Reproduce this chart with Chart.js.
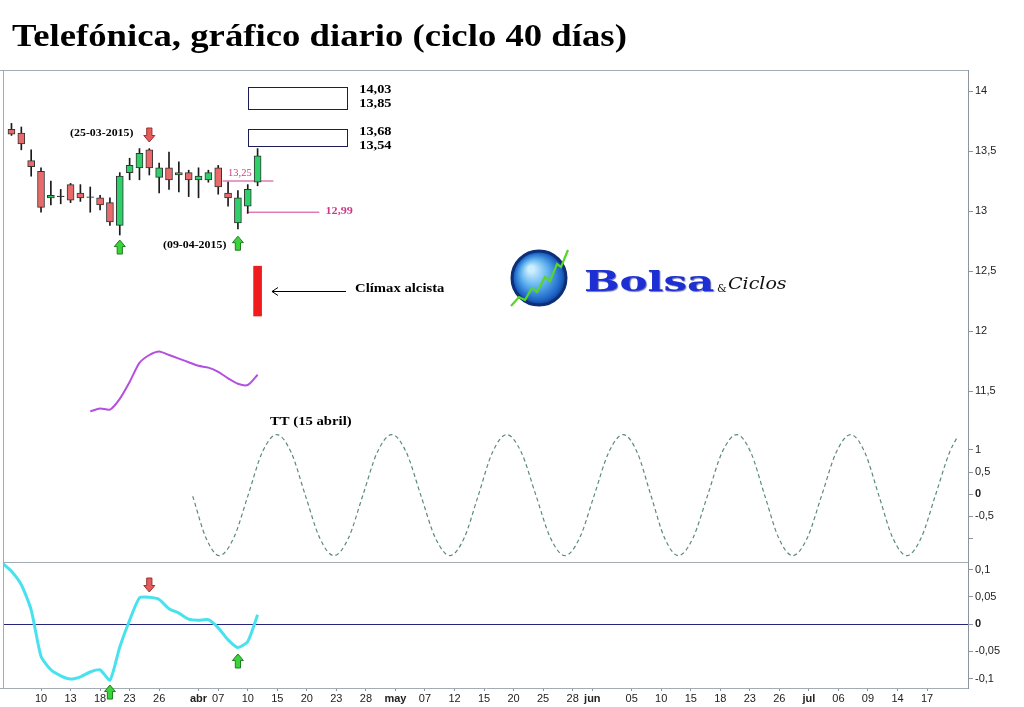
<!DOCTYPE html>
<html><head><meta charset="utf-8">
<script src="https://cdn.jsdelivr.net/npm/chart.js@4.4.1/dist/chart.umd.min.js"></script>
<style>
html,body{margin:0;padding:0;background:#fff;}
#wrap{position:relative;width:1024px;height:707px;overflow:hidden;background:#fff;}
canvas{position:absolute;left:0;top:0;}
#title{position:absolute;left:12px;top:20px;font-family:"Liberation Serif","Times New Roman",serif;font-weight:bold;font-size:31px;line-height:31px;white-space:nowrap;transform:scaleX(1.185);transform-origin:0 0;color:#000;}
</style></head><body>
<div id="wrap"><canvas id="c" width="1024" height="707"></canvas><div id="title">Telefónica, gráfico diario (ciclo 40 días)</div></div>
<script>
// ---- x axis (trading-day index) tick labels ----
const xTickIdx = [3,6,9,12,15,19,21,24,27,30,33,36,39,42,45,48,51,54,57,59,63,66,69,72,75,78,81,84,87,90,93];
const xTickLabels = ['10','13','18','23','26','abr','07','10','15','20','23','28','may','07','12','15','20','25','28','jun','05','10','15','18','23','26','jul','06','09','14','17'];
const monthLabels = ['abr','may','jun','jul'];

// ---- daily candles (5-03-2015 .. 13-04-2015) ----
const candleOpen  = [13.68,13.65,13.42,13.33,13.11,13.12,13.22,13.15,13.114,13.11,13.07,12.88,13.32,13.36,13.51,13.28,13.36,13.30,13.32,13.26,13.26,13.36,13.15,12.90,13.04,13.24];
const candleClose = [13.64,13.56,13.37,13.03,13.13,13.125,13.09,13.11,13.118,13.05,12.91,13.29,13.38,13.48,13.36,13.36,13.26,13.32,13.26,13.29,13.32,13.20,13.11,13.11,13.18,13.46];
const candleHigh  = [13.73,13.70,13.51,13.36,13.25,13.18,13.23,13.22,13.20,13.13,13.11,13.32,13.44,13.52,13.52,13.40,13.49,13.41,13.34,13.36,13.34,13.38,13.24,13.17,13.22,13.52];
const candleLow   = [13.63,13.51,13.29,12.99,13.05,13.06,13.07,13.08,12.99,13.01,12.88,12.80,13.26,13.26,13.30,13.15,13.18,13.16,13.12,13.11,13.24,13.14,13.04,12.85,12.98,13.21];

// ---- purple smoothed line (price scale), starting at index 8 ----
const purpleStart = 8;
const purpleVals = [11.33,11.355,11.345,11.435,11.575,11.735,11.80,11.83,11.80,11.77,11.74,11.71,11.695,11.66,11.605,11.56,11.55,11.635];

// ---- cyan oscillator, starting at index -1 ----
const oscStart = -1;
const oscVals = [0.113,0.097,0.072,0.026,-0.059,-0.084,-0.095,-0.101,-0.097,-0.088,-0.084,-0.103,-0.042,0.007,0.048,0.049,0.045,0.028,0.020,0.009,0.007,0.008,-0.007,-0.029,-0.043,-0.032,0.017];

// ---- 40-day cycle projection (read points) ----
const sineX = [18.41,19.76,21.11,22.57,24.03,25.48,26.94,28.40,29.85,31.31,32.76,34.23,35.69,37.16,38.62,40.10,41.58,43.06,44.54,45.98,47.42,48.86,50.30,51.78,53.27,54.75,56.23,57.71,59.19,60.67,62.15,63.55,64.95,66.34,67.74,69.22,70.71,72.19,73.67,75.09,76.51,77.93,79.35,80.83,82.30,83.78,85.25,86.67,88.10,89.52,90.94,92.40,93.85,95.29,96.02];
const sineY = [-0.05,-1.0,-1.4, -1.0,-0.03,0.95,1.35,0.95,-0.03,-1.0,-1.4, -1.0,-0.03,0.95,1.35,0.95,-0.03,-1.0,-1.4, -1.0,-0.03,0.95,1.35,0.95,-0.03,-1.0,-1.4, -1.0,-0.03,0.95,1.35,0.95,-0.03,-1.0,-1.4, -1.0,-0.03,0.95,1.35,0.95,-0.03,-1.0,-1.4, -1.0,-0.03,0.95,1.35,0.95,-0.03,-1.0,-1.4, -1.0,-0.03,0.95,1.27];

// ---- annotation levels ----
const targetBoxes = [[14.03,13.85],[13.68,13.54]];
const targetLabels = [['14,03','13,85'],['13,68','13,54']];
const supportLevels = [13.25, 12.99];
const supportLabels = ['13,25','12,99'];
const climaxRange = [12.125, 12.54];
const climaxIdx = 25;

// ticks of the y axes
const priceTicks = [11.5,12,12.5,13,13.5,14];
const sineTicks = [-1,-0.5,0,0.5,1];
const oscTicks = [-0.1,-0.05,0,0.05,0.1];

const comma = v => String(v).replace('.', ',');
const FONT = '"Liberation Sans", Arial, sans-serif';
const SERIF = '"Liberation Serif", "Times New Roman", serif';
const AXC = '#8d949c';

function candleColor(i){
  const d = candleClose[i]-candleOpen[i];
  if (Math.abs(d) < 0.006) return '#2a2a2a';
  return d > 0 ? '#2fcf6a' : '#e96a6a';
}

function yAxis(extra){
  return Object.assign({
    position:'right', stack:'main',
    afterFit: s => { s.width = 56; },
    grid:{drawOnChartArea:false, tickLength:5, color:AXC},
    border:{color:AXC},
    ticks:{color:'#222', padding:2, font:{family:FONT,size:11}}
  }, extra);
}

function txt(ctx, s, x, y, font, color, sx){
  ctx.save();
  ctx.font = font; ctx.fillStyle = color; ctx.textBaseline = 'middle'; ctx.textAlign = 'left';
  ctx.translate(x, y); ctx.scale(sx||1, 1); ctx.fillText(s, 0, 0);
  ctx.restore();
}
function arrow(ctx, cx, tipY, down){
  const hw = 5.5, sw = 2.6, H = 14, hh = 6.5, d = down ? 1 : -1;
  const tail = tipY - d*H, neck = tipY - d*hh;
  ctx.save();
  ctx.beginPath();
  ctx.moveTo(cx-sw, tail); ctx.lineTo(cx+sw, tail); ctx.lineTo(cx+sw, neck); ctx.lineTo(cx+hw, neck);
  ctx.lineTo(cx, tipY); ctx.lineTo(cx-hw, neck); ctx.lineTo(cx-sw, neck); ctx.closePath();
  ctx.fillStyle = down ? '#e25c5c' : '#3bd23b'; ctx.fill();
  ctx.lineWidth = 1; ctx.strokeStyle = down ? '#9a3030' : '#1f7f1f'; ctx.stroke();
  ctx.restore();
}

const priceArrows = [[14,13.575,true],[11,12.758,false],[23,12.79,false]];
const oscArrows = [[14,0.0587,true],[23,-0.055,false],[10,-0.112,false]];

const annot = {
  id:'annot',
  beforeDraw(chart){
    const c = chart.ctx; c.save(); c.fillStyle='#fff'; c.fillRect(0,0,chart.width,chart.height); c.restore();
  },
  beforeDatasetsDraw(chart){
    const c = chart.ctx, a = chart.chartArea, so = chart.scales.yOsc;
    c.save(); c.strokeStyle = '#a3abb3'; c.lineWidth = 1;
    c.beginPath();
    c.moveTo(0, a.top+0.5); c.lineTo(a.right, a.top+0.5);
    c.moveTo(a.left-0.5, a.top); c.lineTo(a.left-0.5, a.bottom);
    c.moveTo(0, a.bottom+0.5); c.lineTo(a.left, a.bottom+0.5);
    c.moveTo(a.left, Math.round(so.top)+0.5); c.lineTo(a.right, Math.round(so.top)+0.5);
    c.stroke(); c.restore();
  },
  afterDraw(chart){
    const c = chart.ctx, xs = chart.scales.x, yp = chart.scales.y, yo = chart.scales.yOsc;
    const X = v => xs.getPixelForValue(v), Y = v => yp.getPixelForValue(v);
    // target boxes
    targetBoxes.forEach((b, k) => {
      const x0 = Math.round(X(24.06))+0.5, x1 = Math.round(X(34.05))+0.5;
      const t = Math.round(Y(b[0]))+0.5, bt = Math.round(Y(b[1]))+0.5;
      c.save(); c.fillStyle='#fff'; c.fillRect(x0,t,x1-x0,bt-t);
      c.strokeStyle='#1c1c5a'; c.lineWidth=1; c.strokeRect(x0,t,x1-x0,bt-t); c.restore();
      txt(c, targetLabels[k][0], X(35.33), t+2.5, 'bold 13px '+SERIF, '#000', 1.1);
      txt(c, targetLabels[k][1], X(35.33), t+16, 'bold 13px '+SERIF, '#000', 1.1);
    });
    // support labels
    txt(c, supportLabels[0], X(22.0), Y(13.314), '10px '+SERIF, '#d0388a', 1.05);
    txt(c, supportLabels[1], X(31.9), Y(12.99)-1.5, 'bold 11px '+SERIF, '#d0388a', 1.1);
    // date notes
    txt(c, '(25-03-2015)', X(5.95), Y(13.65), 'bold 11px '+SERIF, '#000', 1.08);
    txt(c, '(09-04-2015)', X(15.39), Y(12.717), 'bold 11px '+SERIF, '#000', 1.08);
    txt(c, 'TT (15 abril)', X(26.26), Y(11.242), 'bold 13px '+SERIF, '#000', 1.13);
    // climax note + arrow
    txt(c, 'Clímax alcista', X(34.9), Y(12.35), 'bold 13px '+SERIF, '#000', 1.13);
    const ay = Math.round(Y(12.333))+0.5, ax0 = X(26.46), ax1 = X(33.98);
    c.save(); c.strokeStyle='#000'; c.lineWidth=1; c.beginPath();
    c.moveTo(ax1, ay); c.lineTo(ax0, ay); c.moveTo(ax0+6, ay-4); c.lineTo(ax0, ay); c.lineTo(ax0+6, ay+4); c.stroke(); c.restore();
    // signal arrows
    priceArrows.forEach(a => arrow(c, X(a[0]), Y(a[1]), a[2]));
    oscArrows.forEach(a => arrow(c, X(a[0]), yo.getPixelForValue(a[1]), a[2]));
    // logo
    c.save();
    const gx = 539, gy = 278, r = 27;
    const g = c.createRadialGradient(gx-8, gy-9, 3, gx, gy, r);
    g.addColorStop(0,'#cdeeff'); g.addColorStop(0.45,'#5fb2ee'); g.addColorStop(0.85,'#1d66c8'); g.addColorStop(1,'#123c8c');
    c.beginPath(); c.arc(gx, gy, r, 0, Math.PI*2); c.fillStyle=g; c.fill();
    c.lineWidth=3; c.strokeStyle='#0d2f78'; c.stroke();
    c.beginPath();
    const zz = [[511,306],[519,297],[525,300],[532,288],[537,292],[545,277],[550,281],[557,264],[561,267],[568,250]];
    zz.forEach((p,i)=> i? c.lineTo(p[0],p[1]) : c.moveTo(p[0],p[1]));
    c.lineWidth=2.2; c.strokeStyle='#5ad42a'; c.stroke();
    c.restore();
    c.save(); c.shadowColor='rgba(10,20,120,0.6)'; c.shadowOffsetX=1; c.shadowOffsetY=1; c.shadowBlur=1;
    txt(c, 'Bolsa', 584, 284, 'bold 28px "DejaVu Serif", serif', '#1d2ed2', 1.5);
    c.restore();
    txt(c, '&', 717, 289, '11px "DejaVu Serif", serif', '#111', 1);
    txt(c, 'Ciclos', 728, 285, 'italic 17px "DejaVu Serif", serif', '#111', 1.12);
  }
};

const candleIdx = candleOpen.map((_, i) => i);
const cfg = {
  type:'bar',
  data:{datasets:[
    {type:'bar', label:'body', order:0, grouped:false, barThickness:7, borderWidth:1, borderSkipped:false,
     data: candleIdx.map(i => ({x:i, y:[candleOpen[i], candleClose[i]]})),
     backgroundColor: ctx => candleColor(ctx.dataIndex),
     borderColor: ctx => Math.abs(candleClose[ctx.dataIndex]-candleOpen[ctx.dataIndex])<0.006 ? '#2a2a2a' : '#333', yAxisID:'y'},
    {type:'bar', label:'wick', order:1, grouped:false, barThickness:1, borderWidth:0,
     data: candleIdx.map(i => ({x:i, y:[candleLow[i], candleHigh[i]]})), backgroundColor:'#1a1a1a', yAxisID:'y'},
    {type:'bar', label:'climax', order:1, grouped:false, barThickness:8, borderWidth:0,
     data:[{x:climaxIdx, y:climaxRange}], backgroundColor:'#ee1c1c', yAxisID:'y'},
    {type:'line', label:'s1', order:2, yAxisID:'y', borderColor:'#cf3c8c', borderWidth:1, pointRadius:0,
     data:[{x:21.45,y:supportLevels[0]},{x:26.6,y:supportLevels[0]}]},
    {type:'line', label:'s2', order:2, yAxisID:'y', borderColor:'#cf3c8c', borderWidth:1, pointRadius:0,
     data:[{x:23.9,y:supportLevels[1]},{x:31.27,y:supportLevels[1]}]},
    {type:'line', label:'purple', order:2, yAxisID:'y', borderColor:'#b44fe0', borderWidth:2, pointRadius:0, tension:0.25,
     data: purpleVals.map((v,k)=>({x:purpleStart+k, y:v}))},
    {type:'line', label:'cycle', order:2, yAxisID:'ySin', borderColor:'#5b8a7b', borderWidth:1.2, borderDash:[4,3], pointRadius:0,
     cubicInterpolationMode:'monotone', data: sineX.map((x,k)=>({x:x, y:sineY[k]}))},
    {type:'line', label:'osc', order:2, yAxisID:'yOsc', borderColor:'#48e2ee', borderWidth:3, pointRadius:0, tension:0.2,
     data: oscVals.map((v,k)=>({x:oscStart+k, y:v}))}
  ]},
  options:{
    responsive:false, animation:false,
    layout:{padding:{top:70, left:4, right:0, bottom:0}},
    plugins:{legend:{display:false}, tooltip:{enabled:false}, title:{display:false}},
    scales:{
      x:{type:'linear', position:'bottom', min:-0.76, max:97.16, offset:false,
         afterBuildTicks: s => { s.ticks = xTickIdx.map(v => ({value:v})); },
         afterFit: s => { s.height = 19; },
         grid:{drawOnChartArea:false, tickLength:3, color:AXC, offset:false},
         border:{color:'#a3abb3'},
         ticks:{autoSkip:false, maxRotation:0, padding:1, color:'#222',
           font: ctx => ({family:FONT, size:11, weight: monthLabels.includes(xTickLabels[ctx.index]) ? 'bold' : 'normal'}),
           callback: (v, i) => xTickLabels[i]}},
      y: yAxis({stackWeight:355, min:11.2167, max:14.175,
         afterBuildTicks: s => { s.ticks = priceTicks.map(v => ({value:v})); },
         ticks:{color:'#222', padding:2, font:{family:FONT,size:11}, callback: v => comma(v)}}),
      ySin: yAxis({stackWeight:137, min:-1.545, max:1.568,
         afterBuildTicks: s => { s.ticks = sineTicks.map(v => ({value:v})); },
         ticks:{color:'#222', padding:2, font: ctx => ({family:FONT,size:11, weight: ctx.tick && ctx.tick.value===0 ? 'bold':'normal'}),
           callback: v => v === -1 ? '' : comma(v)}}),
      yOsc: yAxis({stackWeight:126, min:-0.1174, max:0.1138,
         afterBuildTicks: s => { s.ticks = oscTicks.map(v => ({value:v})); },
         grid:{drawOnChartArea:true, tickLength:5, tickColor:AXC,
           color: ctx => (ctx.tick && ctx.tick.value === 0) ? '#24247a' : 'rgba(0,0,0,0)'},
         ticks:{color:'#222', padding:2, font: ctx => ({family:FONT,size:11, weight: ctx.tick && ctx.tick.value===0 ? 'bold':'normal'}),
           callback: v => comma(v)}})
    }
  },
  plugins:[annot]
};
const chart = new Chart(document.getElementById('c'), cfg);
</script>
</body></html>
